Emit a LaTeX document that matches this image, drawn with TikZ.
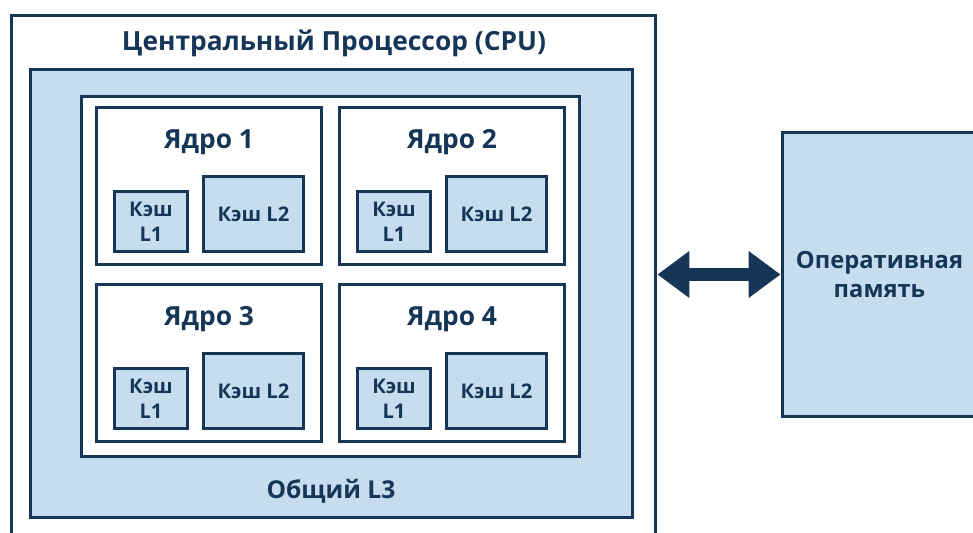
\documentclass[tikz,border=0pt]{standalone}
\usepackage{fontspec}
\setmainfont{Open Sans}
\usetikzlibrary{arrows.meta}
\definecolor{navy}{RGB}{22,54,88}
\definecolor{paleblue}{RGB}{197,221,238}

\begin{document}
\begin{tikzpicture}[x = 0.02cm, y = -0.02cm,
        box/.style = {draw = navy, line width = 0.06cm, inner sep = 0pt, fill = white},
        bluebox/.style = {box, fill = paleblue},
        corebox/.style = {box, minimum width = 4.52cm, minimum height = 3.14cm},
        lone/.style = {bluebox, minimum width = 1.48cm, minimum height = 1.22cm, align = center,
            font = \bfseries\fontsize{11.5}{14}\selectfont, text = navy},
        ltwo/.style = {bluebox, minimum width = 2.02cm, minimum height = 1.52cm,
            font = \bfseries\fontsize{11.5}{14}\selectfont, text = navy},
        corename/.style = {font = \bfseries\fontsize{15}{18}\selectfont, text = navy},
        bigname/.style = {font = \bfseries\fontsize{14}{17}\selectfont, text = navy},
        duplex/.style = {draw = navy, line width = 0.28cm,
            {Triangle[length = 0.64cm, width = 0.9cm]}-{Triangle[length = 0.64cm, width = 0.9cm]}}]
        \useasboundingbox (0, 0) rectangle (973, 533);
        \node [box, minimum width = 12.9cm, minimum height = 10.9cm] (cpu) at (333.5, 287.5) {};
        \node [bigname, font = \bfseries\fontsize{15}{18}\selectfont] (cpuname) at (334, 43) {Центральный Процессор (CPU)};
        \node [bluebox, minimum width = 12.06cm, minimum height = 8.98cm] (l3) at (331.5, 293.5) {};
        \node [bigname] (l3name) at (331, 491) {Общий L3};
        \node [box, minimum width = 9.98cm, minimum height = 7.22cm] (cores) at (330.5, 276.5) {};
        \node [corebox] (core1) at (209, 186) {};
        \node [corebox] (core2) at (452, 186) {};
        \node [corebox] (core3) at (209, 363) {};
        \node [corebox] (core4) at (452, 363) {};
        \node [corename] (name1) at (209, 142) {Ядро 1};
        \node [corename] (name2) at (452, 142) {Ядро 2};
        \node [corename] (name3) at (209, 319) {Ядро 3};
        \node [corename] (name4) at (452, 319) {Ядро 4};
        \node [lone] (lone1) at (151, 221.5) {Кэш\\L1};
        \node [lone] (lone2) at (394, 221.5) {Кэш\\L1};
        \node [lone] (lone3) at (151, 398.5) {Кэш\\L1};
        \node [lone] (lone4) at (394, 398.5) {Кэш\\L1};
        \node [ltwo] (ltwo1) at (253.5, 214) {Кэш L2};
        \node [ltwo] (ltwo2) at (496.5, 214) {Кэш L2};
        \node [ltwo] (ltwo3) at (253.5, 391) {Кэш L2};
        \node [ltwo] (ltwo4) at (496.5, 391) {Кэш L2};
        \node [bluebox, minimum width = 3.9cm, minimum height = 5.7cm, align = center,
            font = \bfseries\fontsize{13.5}{16.5}\selectfont, text = navy] (ram) at (879.5, 274.5) {Оперативная\\память};
        \draw [duplex] (cpu.east |- ram.west) -- (ram.west);
    \end{tikzpicture}
\end{document}
